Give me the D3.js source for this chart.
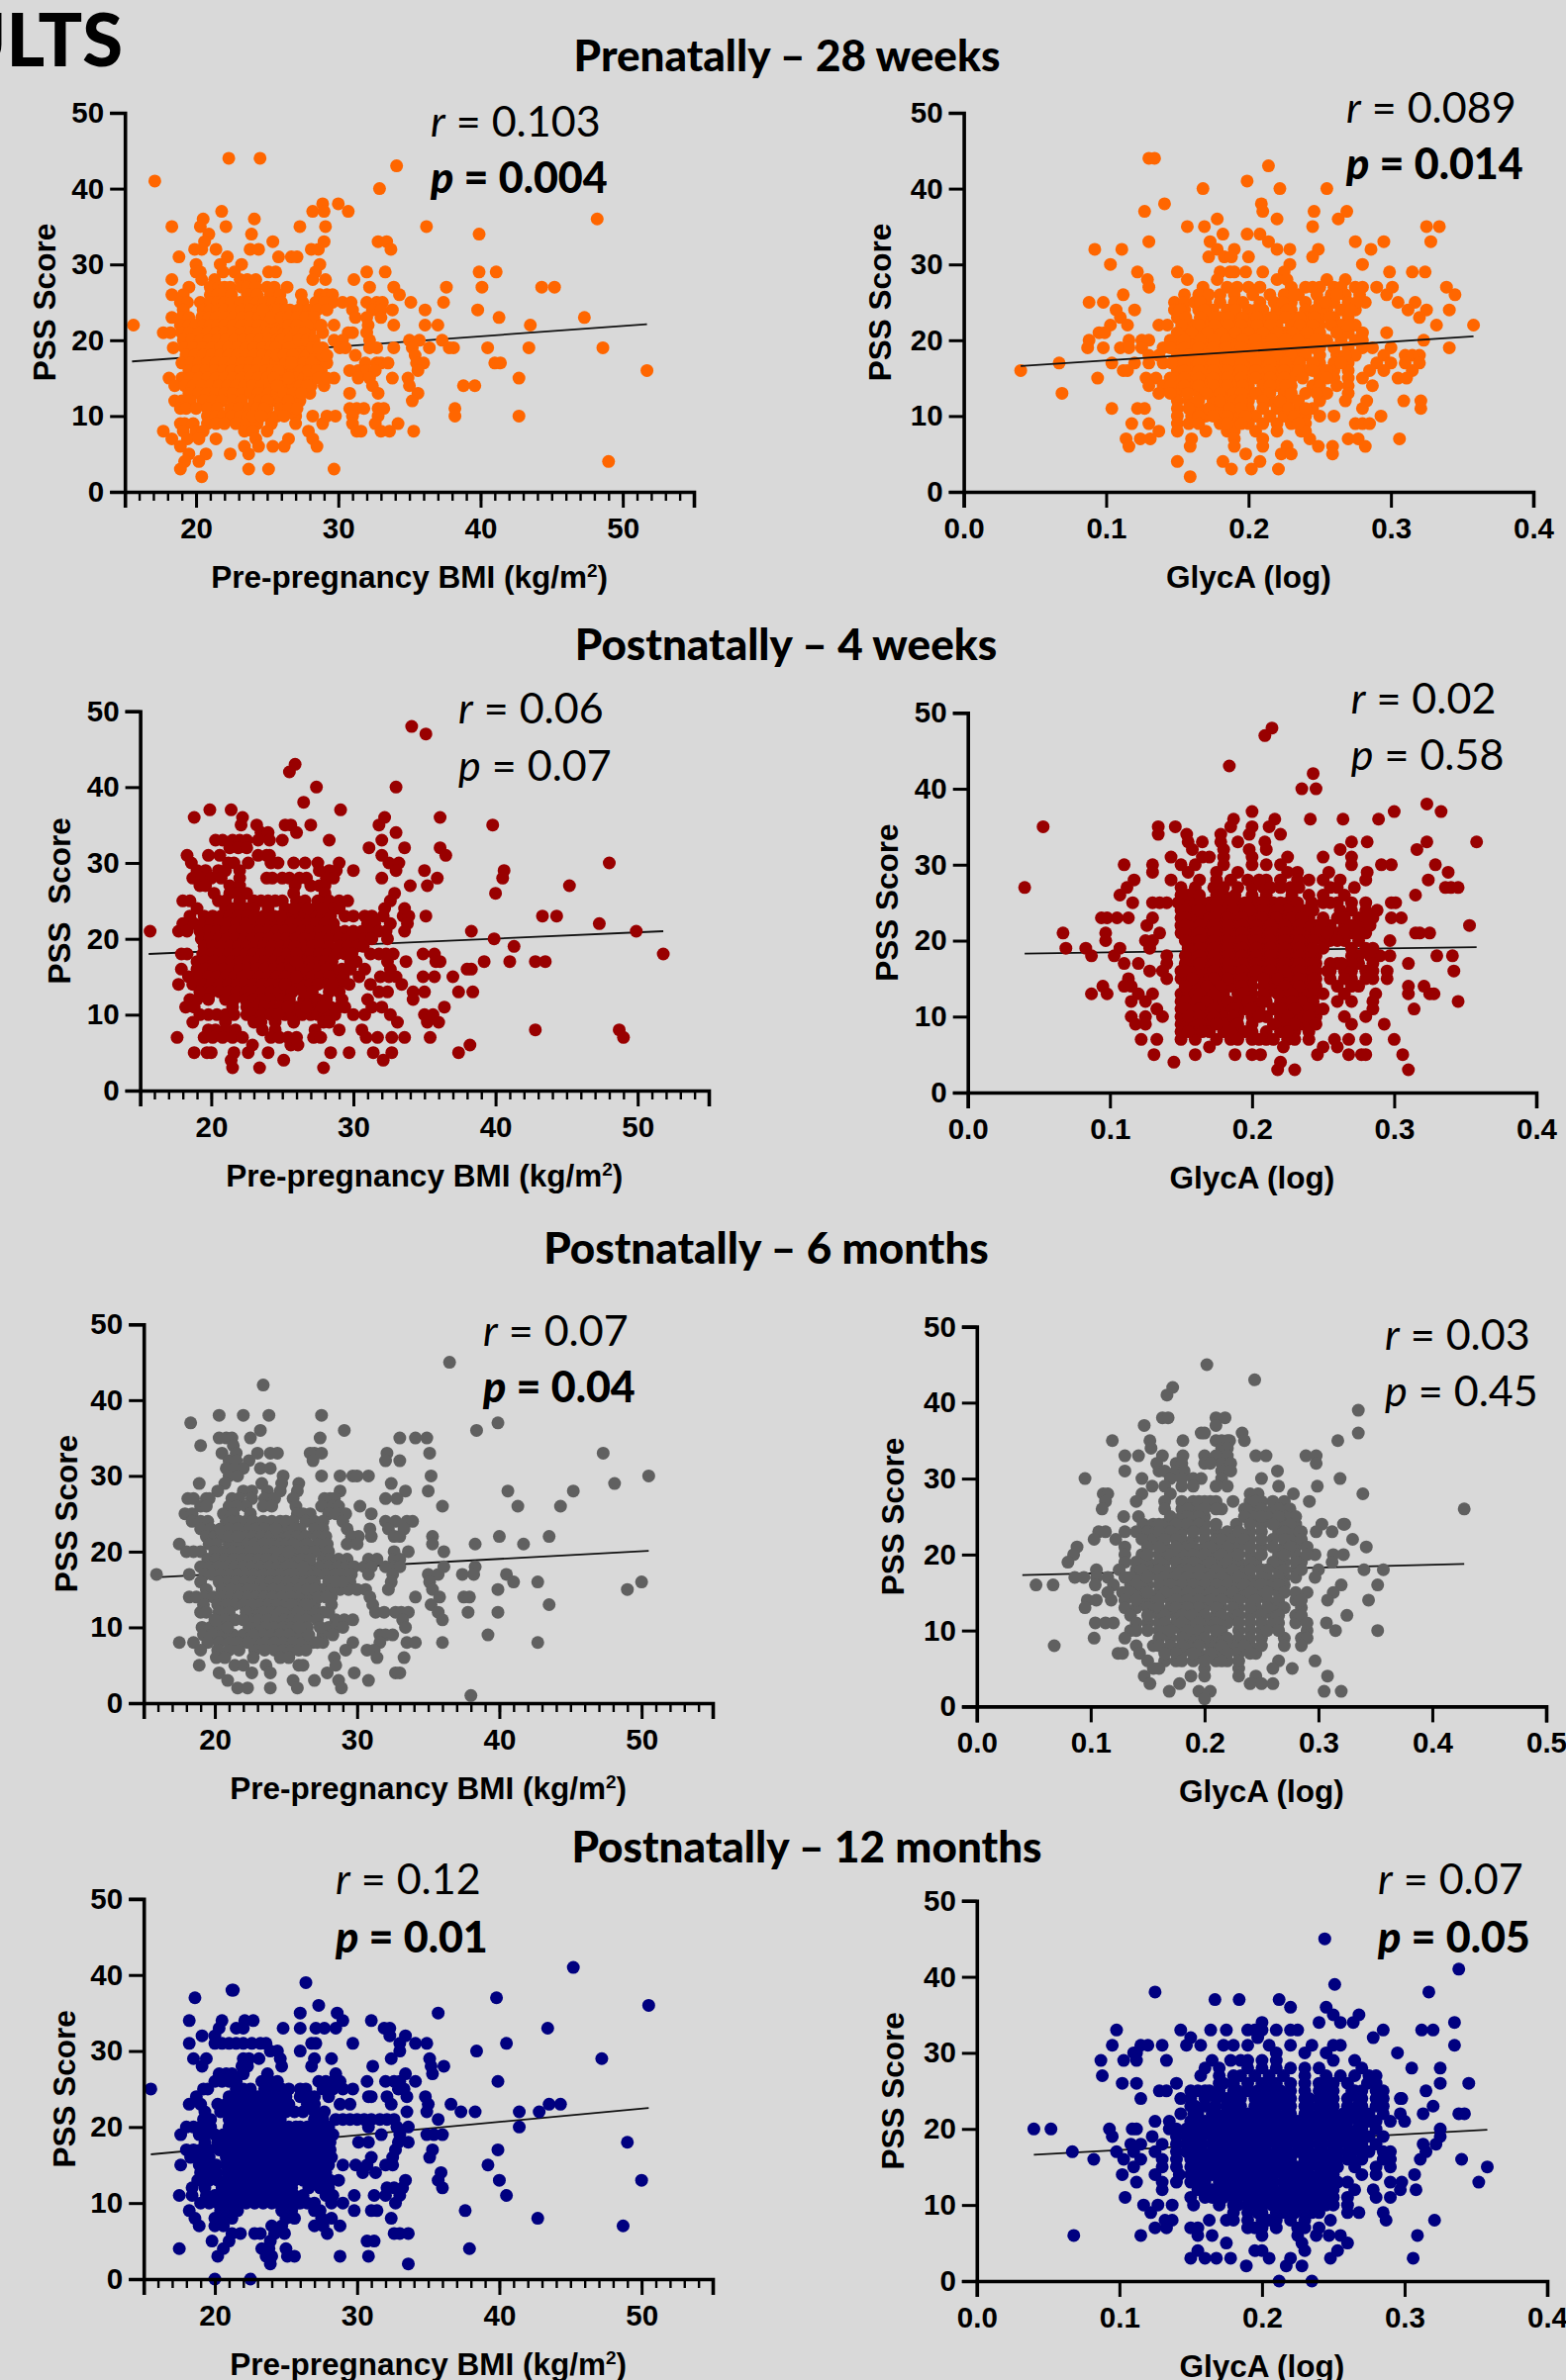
<!DOCTYPE html>
<html>
<head>
<meta charset="utf-8">
<script src="https://cdn.jsdelivr.net/npm/d3@7"></script>
<style>
  html, body { margin: 0; padding: 0; background: #d9d9d9; overflow: hidden; }
  text { fill: #000; }
  .tick-label { font-family: "Liberation Sans", Arial, sans-serif; font-weight: 700; font-size: 29.5px; }
  .axis-title { font-family: "Liberation Sans", Arial, sans-serif; font-weight: 700; font-size: 31.5px; white-space: pre; }
  .heading { font-family: Lato, sans-serif; font-weight: 900; font-size: 44px; }
  .stat { font-family: Lato, sans-serif; font-size: 43px; }
</style>
</head>
<body>
<div id="chart"></div>
<script>
// each row: PSS score first, then the x value of every dot read at that score
const bmi28w = [
  [44,22.3,24.5],[43,34.1],[41,17.1],[40,32.9],[38,28.9,30],[37,21.8,28.2,29,30.7],[36,20.5,24.1,48.2],
  [35,18.3,20.3,22.1,27.3,29.1,36.2],[34,20.9,23.9,39.9],[33,20.6,25.4,29,32.8,33.4],
  [32,19.9,20.4,21.4,23.8,24.4,28.1,28.6,33.7],[31,18.8,22.2,25.8,26.7,27.1],[30,20,21.7,23.2,28.7],
  [29,20,20.3,21.9,22.7,25.1,25.6,28.4,32,33.3,39.9,41.1],[28,18.3,20.4,21.3,23.1,23.6,24.2,28.2,29.1,31.1],
  [27,19.5,21,21.6,22,22.4,23.2,23.6,24.2,25,25.5,26.4,32.2,33.9,37.6,40.1,44.3,45.2],
  [26,18.3,19.1,21,21.5,22,22.5,23.6,24.3,25.2,25.9,27.4,28.7,29.2,29.6,34.3],
  [25,18.9,19.4,20.3,21,21.5,22,22.5,23.1,23.7,24.3,24.8,25.4,26,27.5,28.4,29,29.6,30.3,30.9,32,32.7,33.1,35.1,37.4],
  [24,19.1,20.5,21,21.5,22,22.6,23.2,23.8,24.4,25,25.5,26,26.6,27.2,27.9,28.5,29.2,31,32.4,33,33.8,36.1,39.8],
  [23,18.3,19,19.5,20.4,20.9,21.4,22,22.6,23.2,23.8,24.4,25,25.6,26.2,26.8,27.4,28,31.2,32,33,41.3,47.3],
  [22,15.6,18.9,19.5,20,20.5,21,21.5,22,22.6,23.2,23.8,24.4,25,25.6,26.2,26.8,27.4,28.3,29.7,32.1,33.9,36.1,37,43.5],
  [21,17.7,18.2,19,19.5,20.2,20.8,21.4,22,22.6,23.2,23.8,24.4,25,25.6,26.2,26.8,27.3,28,28.9,30.7,31,32],
  [20,19.1,19.7,20.3,20.9,21.5,22.1,22.7,23.3,23.9,24.5,25.1,25.7,26.3,26.9,27.5,29.7,30.3,32.2,35,35.7,37.3],
  [19,18.4,19.2,19.8,20.5,21.1,21.7,22.3,22.9,23.5,24.1,24.7,25.3,25.9,27.1,27.7,28.9,30.1,30.5,32.2,32.7,33.9,35.2,36.4,37.8,38.1,40.5,43.4,48.6],
  [18,19.3,19.9,20.5,21.1,21.7,22.3,22.9,23.5,24.1,24.7,25.3,27.2,27.8,28.4,31.2,35.4],
  [17,19,19.6,20.2,20.8,21.4,22,22.6,23.2,23.8,24.4,25,25.6,27,27.6,28.6,29.2,31.9,32.7,33,33.5,35.5,36,41,41.4],
  [16,19.5,20.1,20.7,21.3,21.9,22.5,23.1,23.7,24.3,24.9,26.2,26.8,27.4,28.2,28.8,30.8,31.4,32,32.6,35.6,51.7],
  [15,18.1,19,19.6,20.2,20.8,21.4,22,22.6,23.2,23.8,24.4,25,26,27,27.6,28,29.7,31.4,32.2,33.8,34.9,42.7],
  [14,18.5,19.2,19.8,20.4,21,21.6,22.2,22.8,23.4,24,24.6,25.2,26.3,26.8,28.1,29,32.4,35,38.8,39.6],
  [13,19.5,20.2,20.8,21.4,22,22.6,23.2,23.8,24.4,25.1,25.7,28,30.8,32.8,35.6],
  [12,18.5,19,19.6,20.5,21.2,21.8,22.6,23.2,24.1,25.5,26,26.9,27.3,35.2],
  [11,18.9,19.3,20,20.8,21.5,22.4,23,23.7,25,25.9,30.8,31.3,31.8,32.8,33.2,38.2],
  [10,20.8,21.4,21.9,22.5,23.1,23.6,25.1,27,28.2,29.2,29.8,31,32.8,38.2,42.7],
  [9,18.9,19.2,19.8,20.8,21.4,22,22.8,23.5,24.3,25.3,27,28.9,31,32.6,34.2],
  [8,17.7,19.1,20,20.5,23.4,24,25,27.9,31.3,31.6,33,33.6,35.3],[7,18.3,19.4,20.2,21.4,24.2,26.5,28.2],
  [6,18.9,23.4,24.4,25.4,26.2,28.5],[5,19.5,20.7,22.4,23.7],[4,19.2,20.2,49],[3,18.9,23.7,25.1,29.7],[2,20.4],
  // right flank of the dense block
  [24,24.7,25.8,26.3],[23,25.3,26,26.5,27.1,27.7,28.3],[22,26.5,27.1,27.8,28.8],[21,26.5,27,27.6],[20,26,26.6,27.2,27.8,28.3],
  [19,25.6,26.5,28.2,28.6],[18,25.7,26.2,26.8,28.9,29.2],[17,26.3,26.7,28.1],[16,25.4,25.8,27.9,28.5],[15,25.5,26.5,28.6,29.2],
  [14,25.7,27.3,27.8],[13,26.2,26.8,27.4],[12,24.5,25,26.5],[11,24.3,24.8,26.5,27.1],[10,24,24.6,25.7,26.2]
];
const glyca28w = [
  [44,.130,.134],[43,.214],[41,.199],[40,.168,.222,.255],[38,.141,.209],[37,.127,.21,.246,.269],[36,.178,.22,.263],
  [35,.157,.169,.245,.325,.334],[34,.182,.199,.208],[33,.13,.173,.214,.275,.295,.328],[32,.092,.111,.178,.19,.22,.229,.249,.286],
  [31,.172,.183,.188,.2,.245],[30,.103,.229,.28],[29,.122,.15,.18,.187,.19,.198,.21,.225,.299,.315,.324],
  [28,.129,.157,.178,.22,.227,.255,.268],[27,.13,.168,.185,.192,.2,.208,.23,.24,.245,.25,.26,.265,.275,.28,.29,.301,.339],
  [26,.112,.155,.165,.18,.19,.215,.225,.235,.248,.258,.268,.278,.297,.345],
  [25,.088,.098,.148,.155,.162,.17,.18,.19,.208,.218,.23,.24,.25,.26,.27,.282,.305,.317],
  [24,.107,.12,.148,.155,.165,.175,.185,.2,.21,.22,.23,.24,.255,.265,.275,.312,.325,.341],
  [23,.11,.15,.172,.18,.19,.2,.21,.22,.23,.24,.25,.26,.27,.32],
  [22,.103,.115,.137,.143,.16,.17,.18,.19,.2,.21,.22,.24,.25,.265,.275,.332,.358],
  [21,.095,.099,.155,.165,.175,.185,.195,.205,.215,.225,.235,.245,.27,.28,.297],
  [20,.088,.116,.125,.13,.15,.16,.17,.18,.19,.2,.21,.22,.23,.24,.255,.265,.275,.28,.323],
  [19,.087,.098,.11,.116,.125,.14,.15,.16,.17,.18,.19,.2,.21,.22,.23,.24,.25,.27,.28,.287,.3,.341],
  [18,.13,.137,.165,.175,.185,.195,.205,.215,.225,.235,.262,.275,.295,.31,.315,.32],
  [17,.067,.104,.12,.13,.14,.15,.16,.17,.18,.19,.2,.21,.22,.23,.25,.26,.27,.29,.3,.31,.32],
  [16,.04,.112,.115,.15,.16,.17,.18,.19,.2,.21,.22,.23,.24,.25,.26,.27,.285,.295,.315],
  [15,.094,.128,.135,.15,.16,.17,.18,.19,.2,.21,.22,.23,.25,.26,.27,.28,.305,.311],
  [14,.13,.14,.15,.16,.17,.18,.19,.2,.22,.23,.245,.27,.287],[13,.069,.137,.15,.165,.175,.185,.2,.21,.225,.24,.255,.27],
  [12,.15,.158,.175,.185,.2,.215,.228,.25,.268,.283,.309,.321],[11,.104,.122,.127,.15,.165,.18,.2,.22,.235,.245,.28,.321],
  [10,.15,.16,.17,.18,.19,.205,.225,.24,.25,.26,.293],[9,.118,.13,.15,.158,.18,.19,.2,.22,.23,.24,.275,.28,.285],
  [8,.137,.15,.17,.185,.19,.205,.22,.237,.24],[7,.114,.124,.131,.16,.19,.21,.243,.27,.277,.306],
  [6,.116,.159,.19,.21,.227,.249,.259,.282],[5,.198,.223,.23,.259],[4,.15,.182,.208],[3,.188,.202,.221],[2,.159],
  // the dense core
  [26,.172,.203,.232,.262],[25,.166,.196,.224,.254,.276],[24,.152,.169,.191,.205,.227,.247,.272],
  [23,.156,.166,.176,.186,.196,.206,.216,.226,.236,.246,.257],[22,.153,.165,.176,.186,.195,.206,.215,.23,.236,.245,.258,.27],
  [21,.15,.16,.171,.181,.191,.2,.21,.22,.231,.241,.25,.262],[20,.145,.155,.166,.176,.184,.196,.205,.216,.226,.235,.247],
  [19,.145,.155,.165,.175,.184,.195,.206,.214,.226,.236,.246,.26],[18,.15,.158,.17,.18,.19,.2,.21,.22,.23,.24,.25,.268],
  [17,.146,.155,.165,.175,.186,.195,.205,.215,.226,.236,.245,.265],[16,.155,.165,.175,.185,.195,.205,.215,.225,.235,.245,.255],
  [15,.145,.155,.165,.175,.185,.195,.205,.215,.225,.238,.255],[14,.145,.155,.165,.175,.185,.196,.21,.215,.226,.25,.262],
  [13,.145,.157,.17,.18,.19,.195,.205,.215,.23,.248],[12,.165,.18,.19,.195,.21,.222,.235],[11,.158,.172,.187,.195,.21,.228,.24],
  [10,.165,.175,.185,.198,.215,.232],[9,.165,.185,.195,.21,.235]
];
const bmi4w = [
  [48,34.1],[47,35.1],[43,25.9],[42,25.5],[40,27.4,33],[38,26.5],[37,19.9,21.4,29.1],[36,18.8,22.2,32.2,36.1],
  [35,22.1,23.2,25.2,25.6,27,31.8,39.8],[34,23.5,24,26,33],[33,20.3,20.8,21.5,22,22.5,23.3,24.1,25,28.3,32],
  [32,21.3,21.9,22.5,31.1,33.6,36.1],[31,18.3,19.8,20.6,23.3,23.9,24.1,32,36.5],
  [30,18.6,21.2,21.6,22.6,24.2,24.7,25.8,26.6,27.5,29,32.5,33.2,48],[29,19,19.6,20.5,21,22,27.6,28.3,28.8,30,33,35,40.6],
  [28,18.7,19.3,20,20.7,22,23.9,24.3,25,25.5,26.2,26.7,28.1,28.6,32,35.9,40.5],[27,19.2,19.6,21.3,22,25.9,27,27.6,28,34,35.2,45.2],
  [26,20.2,21.3,21.9,22.5,25.8,28,32.9,40],[25,18,18.5,20.5,21,22,23,23.5,24,24.5,25,26,26.6,27.5,28.3,29,29.6,32.6],
  [24,19,21,21.5,22,22.5,23,24,25.2,26.3,27.3,28.5,32.2,33.6],
  [23,18.5,19.5,20.1,20.7,21.3,21.9,22.5,23.1,23.7,25.3,26,26.6,27.2,27.8,28.4,29.4,30,30.8,31.3,32.1,33.5,33.9,35.1,43.3,44.3],
  [22,18,18.8,19.4,20,20.6,21.2,21.8,22.4,23,23.6,24.2,25,25.6,26.2,26.8,27.4,28,28.6,31,31.5,32.6,33.8,47.3],
  [21,15.7,17.7,18.3,19.2,19.8,20.4,21,21.6,22.2,22.8,23.4,24,24.6,25.2,25.8,26.4,27,27.6,28.2,28.8,29.4,30,30.6,31.2,31.8,32.3,33.6,38.3,49.9],
  [20,19.3,19.9,20.5,21.1,21.7,22.3,22.9,23.5,24.1,24.7,25.3,25.9,26.5,27.1,27.7,28.3,29,29.6,30.2,32.4,39.9],
  [19,19.5,20.1,20.7,21.3,21.9,22.5,23.1,23.7,24.3,24.9,25.5,26.5,27.1,27.7,28.3,29,29.6,30.2,41.3],
  [18,17.9,18.3,19.4,20,20.6,21.2,21.8,22.4,23,23.6,24.2,24.8,25.4,26.3,27,27.6,28.2,28.8,31.2,31.8,32.3,32.8,34.9,35.7,51.8],
  [17,19,19.6,20.2,20.8,21.4,22,22.6,23.2,23.8,24.4,25,25.6,26.5,27,27.6,29.8,30.2,32.4,33.7,35.8,36.1,39.2,41,42.8,43.5],
  [16,17.9,19,19.6,20.2,20.8,21.4,22,22.6,23.2,23.8,24.4,25,25.6,26.4,27,27.6,28.6,29.2,30.8,32.6,38,38.3],
  [15,18.4,19.2,19.8,20.4,21,21.6,22.2,22.8,23.4,24,24.6,25.2,26.5,27.1,27.7,28.8,29.3,30.4,31.9,32.5,33,34.9,35.7,37],
  [14,17.7,18.7,19.4,20,20.6,21.2,21.8,22.4,23,23.6,24.2,24.8,25.6,26.3,27,27.5,29,29.7,31.2,33.4],
  [13,19.2,20,20.6,21.2,21.8,22.4,23,23.6,24.2,24.8,25.4,28.3,29,31.8,32.4,34.2,35,37.4,38.4],
  [12,18.5,19,19.8,21,21.6,22.4,23,23.6,24.2,25,26.5,27,29.2,31,34.2],
  [11,18.2,18.8,21.5,22.5,23.2,23.8,24.4,26,27.3,28.4,29,29.4,31.3,32,36.4],
  [10,19.2,19.8,20.4,21,21.6,22.5,23,23.6,24.2,25.2,25.7,26.4,27,27.5,28,28.7,30,30.8,32.6,35,35.6],
  [9,18.7,21,23,23.5,24.5,25.8,27.9,28.3,33.1,35.2,36],[8,19.8,20.3,21,21.7,23.6,24.5,27.3,29,30.6,42.8,48.7],
  [7,17.6,19.5,20.1,20.8,21.5,22.2,24.2,24.8,25.4,26,27.2,27.7,30.9,31.7,32.7,33.6,35.4,49],[6,25.6,26.1,22.9,38.2],
  [5,18.8,19.7,20,21.6,22.6,24,28.4,29.7,31.4,32.7,37.4],[4,21.4,25.1,32.1],[3,21.5,23.4,27.9],
  // right flank of the dense block
  [24,25.8,26.8,27.8,29],[23,24.4,24.9],[20,30.8,31.3],[19,25.9,30.7],[18,26,29.4,29.9],[17,26,28,28.5],[16,28.1,29.8],[15,26,28.3],
  [14,25.2,28.2,28.5],[13,25.7,26.5,27.1],[12,25.5,27.5,28.1],[11,24.9,25.4,26.7,27.8],[10,24.7]
];
const glyca4w = [
  [48,.214],[47,.209],[43,.184],[42,.243],[40,.235,.245],[38,.323],[37,.2,.3,.333],[36,.187,.216,.241,.264,.289],
  [35,.053,.134,.146,.2,.212,.185],[34,.134,.154,.178,.198,.22],[33,.155,.165,.178,.19,.209,.27,.281,.323,.358],
  [32,.158,.18,.198,.21,.262,.316],[31,.143,.165,.17,.18,.2,.225,.27,.25],[30,.11,.13,.15,.16,.18,.2,.21,.22,.27,.291,.298,.329],
  [29,.13,.155,.175,.19,.225,.232,.254,.281,.338],[28,.117,.143,.163,.185,.197,.21,.22,.24,.25,.28,.324],
  [27,.04,.112,.15,.173,.19,.2,.208,.22,.227,.255,.272,.336,.34,.345],[26,.107,.155,.175,.18,.24,.315],
  [25,.116,.13,.135,.14,.15,.155,.16,.17,.18,.19,.2,.215,.225,.25,.26,.27,.28,.298,.301],[24,.155,.165,.19,.2,.21,.22,.23,.27,.288],
  [23,.094,.098,.105,.113,.13,.155,.16,.175,.185,.195,.205,.215,.225,.24,.26,.275,.285,.298,.305],
  [22,.126,.15,.16,.17,.18,.19,.2,.21,.22,.23,.245,.255,.265,.275,.353],
  [21,.067,.097,.135,.15,.16,.17,.18,.19,.2,.21,.22,.23,.24,.26,.27,.28,.315,.318,.325],
  [20,.097,.125,.13,.16,.17,.18,.19,.2,.21,.22,.23,.24,.255,.265,.297],
  [19,.069,.083,.107,.128,.16,.17,.18,.19,.2,.21,.22,.23,.27,.28],
  [18,.087,.103,.14,.16,.17,.18,.19,.2,.21,.23,.245,.275,.29,.297,.33,.341],
  [17,.11,.12,.14,.16,.17,.185,.195,.215,.225,.235,.245,.26,.275,.31],
  [16,.128,.137,.16,.17,.18,.19,.205,.22,.23,.24,.255,.27,.28,.295,.342],
  [15,.113,.14,.15,.165,.18,.2,.22,.23,.24,.255,.27,.285,.295],[14,.095,.11,.115,.17,.185,.2,.225,.235,.245,.26,.275,.31,.321],
  [13,.087,.098,.12,.13,.15,.17,.18,.2,.22,.235,.25,.287,.31,.325,.328],[12,.115,.125,.155,.175,.2,.22,.24,.26,.27,.285,.345],
  [11,.133,.16,.18,.195,.215,.235,.25,.285,.314],[10,.115,.125,.137,.165,.18,.2,.21,.23,.245,.28,.265],
  [9,.118,.125,.15,.17,.185,.22,.235,.27,.293],[8,.16,.18,.2,.21,.22,.24],[7,.122,.133,.15,.16,.175,.2,.21,.225,.24,.258,.268,.28,.3],
  [6,.17,.222,.25,.26],[5,.131,.16,.188,.2,.206,.246,.268,.277,.28,.306],[4,.145,.22],[3,.218,.23,.31],
  // the dense core
  [28,.175,.205,.232,.262],[27,.16,.18,.213,.233,.26],[26,.15,.163,.188,.2,.21,.228,.25,.265],[25,.165,.185,.195,.205,.22,.232,.242,.255],
  [24,.15,.16,.17,.18,.195,.205,.215,.225,.238,.262,.28],[23,.15,.165,.17,.18,.19,.2,.21,.22,.23,.25,.265,.28],
  [22,.155,.165,.175,.185,.195,.205,.215,.225,.24,.27,.283],[21,.155,.165,.175,.185,.195,.205,.215,.225,.245,.265,.275],
  [20,.165,.175,.185,.195,.205,.215,.225,.235,.25,.26,.275],[19,.155,.165,.175,.185,.195,.205,.215,.225,.24,.25,.285],
  [18,.155,.165,.175,.185,.195,.205,.215,.225,.24,.27,.283],[17,.155,.165,.18,.19,.205,.22,.23,.24,.255,.27,.285],
  [16,.15,.165,.175,.185,.197,.21,.225,.235,.245,.265,.285],[15,.155,.17,.19,.21,.225,.235,.245,.265,.28],[14,.16,.175,.195,.215,.23,.24,.27],
  [13,.155,.16,.19,.21,.225,.23,.245,.265],[12,.15,.16,.18,.19,.21,.225,.235],[11,.15,.17,.19,.205,.225,.245],[10,.15,.16,.19,.21,.22,.235],
  [9,.155,.16,.18,.2,.225,.24],[8,.15,.17,.19,.23],[7,.185,.215,.23],
  // dots between the columns
  [25,.148,.163,.175,.208],[24,.153,.163,.175,.187,.198,.208,.218,.233,.243],[23,.153,.173,.183,.193,.207,.217,.228,.235],
  [22,.153,.163,.173,.183,.193,.203,.213,.223,.233,.25],[21,.153,.163,.173,.183,.193,.203,.213,.223,.233,.253],
  [20,.153,.163,.173,.183,.193,.203,.213,.223,.233,.243],[19,.163,.173,.183,.193,.203,.213,.223,.233,.243],
  [18,.153,.163,.173,.183,.193,.203,.213,.223,.233],[17,.153,.163,.173,.183,.193,.203,.213,.223,.233,.243,.263],
  [16,.153,.173,.183,.193,.203,.213,.223,.233,.243,.253],[15,.158,.173,.183,.193,.208,.218,.233,.243],[14,.153,.168,.178,.193,.208,.223,.233,.243],
  [13,.163,.173,.193,.208,.218,.228,.243],[12,.153,.168,.183,.197,.207,.228,.243],[11,.153,.163,.173,.187,.2,.22,.23,.24],
  [10,.155,.163,.173,.187,.205,.225,.24],[9,.163,.175,.19,.215,.23,.245],[8,.155,.165,.185,.195,.225],[7,.19,.205]
];
const bmi6m = [
  [45,36.5],[42,23.4],[38,20.3,22,23.8,27.5],[37,18.3,39.9],[36,23.2,29.1,38.4],[35,20.3,20.8,21.2,22.5,27.4,33,34.1,34.9],[34,19,21.3],
  [33,20.5,21.5,23,23.9,24.4,26.7,27,27.5,32.1,35.1,47.3],[32,21,21.5,22.4,26.9,32,33],[31,20.8,21.4,22,23.2,23.9],
  [30,21,21.6,24.8,27.5,28.8,29.7,30,30.8,35.2,50.5],[29,18.9,20.7,23.3,24.7,25.9,32.4,48.1],
  [28,20.2,22,22.6,23.7,24.6,25.8,28.8,33.4,35,40.6,45.2],[27,18.1,18.5,19.4,19.6,21.2,21.7,22.6,23.5,24.2,25.5,27.7,28.1,28.4,32,32.8],
  [26,19,19.4,21,21.5,22.2,23.4,24,25.7,27.5,28.3,28.7,30.2,36,41.3,44.3],[25,17.9,18.4,20.6,21.3,22.5,25.8,26.2,26.7,28,28.5,29.2,31],
  [24,18.4,19,19.5,20.8,22.2,22.7,23.4,24,26.4,27,27.6,29,32,32.7,33.5,33.9],[23,19,19.7,22.3,22.9,23.5,24.9,25,26,27,27.6,29.3,30.9,32.2,33.3],
  [22,19.4,20,20.5,22.2,22.7,23.3,23.9,24.6,25.2,27.2,27.8,29.6,30.1,31,32.6,33,35.3,40,43.5],
  [21,17.5,19.6,20.1,21,21.6,22.2,22.8,23.4,24,24.6,25,26,27.2,27.9,29.3,30,35.3,38.3,41.7],
  [20,18,18.5,19,20,20.6,21.2,21.8,22.4,23,23.6,24.2,24.8,25.8,27.5,28,32.6,33.6,36.1],
  [19,19.5,20.1,20.7,21.3,21.9,22.5,23.1,23.7,24.3,24.9,25.5,27.6,28.1,28.7,29.3,30.8,31.4,32.6,33],
  [18,19,19.6,20.2,20.8,21.4,22,22.6,23.2,23.8,24.4,25,25.6,26.8,27.4,28,28.6,29.2,29.8,30.5,31,32,32.6,33,36.1,38.3],
  [17,15.9,18.2,19.3,19.8,20.4,21,21.6,22.2,22.8,23.4,24,24.6,25.2,25.8,26.6,27.2,27.8,28.4,29,29.6,30.8,32.5,35,35.7,37.4,38.2,40.5],
  [16,19,20.3,20.9,21.5,22.1,22.7,23.3,23.9,24.5,25.1,25.7,27,28,29.5,32.4,35.1,41,42.7,50],
  [15,19.4,20.5,21.1,21.7,22.3,22.9,23.5,24.1,24.7,25.3,25.9,27.5,28.2,28.8,29.4,30,30.6,32.2,35.3,39.9,49],
  [14,18.2,18.7,19.3,19.9,20.5,21.1,21.7,22.3,22.9,23.5,24.1,24.7,25.9,26.5,28.2,30.9,34.1,35.8,37.5,37.9],
  [13,19.2,20.2,20.8,21.4,22,23.2,23.8,24.4,25,25.8,27,28.2,31.1,35.2,43.5],
  [12,19,19.4,20.3,21,22.8,23.4,24,24.6,25.2,26.5,27,28,31.3,31.9,32.7,33.1,33.6,35.7,37.8,39.9],
  [11,20.7,21.4,22.5,23.1,23.7,24.3,24.9,25.5,28.5,29.1,29.7,33.2,36],[10,19.1,19.7,20.3,23,23.6,24.2,24.8,25.4,28,28.5,29,33.4],
  [9,19.2,19.8,20.6,21.3,22,23.4,24,24.6,25.2,26,27.6,28.3,31.6,32,32.5,39.2],
  [8,17.5,18.5,19.5,20.3,21,21.6,23,23.6,24.2,24.8,25.5,26.2,26.9,27.6,29.7,31.6,33.5,34.1,36,42.7],
  [7,19,20.2,21,21.7,22.8,23.5,24.2,24.8,25.4,29.2,30.7,31.2],[6,20.1,20.7,22.7,24.6,25.2,28.4,31.4,33.3],
  [5,18.9,21.4,22,23.6,25.9,26.2,28.5],[4,20.3,22.6,23.9,27.9,29.8,32.7,33],[3,20.9,25.5,27,28.7,30.8],[2,21.6,22.3,23.9,25.8,28.9],[1,38],
  // filling in the block
  [24,21.2,21.7,24.6,25,25.5],[23,20.4,21,21.6,24.3,25.6],[22,21,21.6,25.8,26.4],[21,25.5,26.5],[20,25.2,26.4,27],[19,26.1,26.7],[18,26.2],
  [16,26.3,26.8,28.5,29],[15,26.5,27],[14,25.3,27.3,27.8],[13,22.6,25.4,26.4],[12,22.2,25.8,27.6],[11,20,22,25.9,26.4,27.2],
  [10,20.9,22.4,25.9,26.5,27.4],[9,22.7,26.6],[8,22.3,27.2],[7,25.9,26.4]
];
const glyca6m = [
  [45,.202],[43,.244],[42,.172],[41,.167],[39,.335],[38,.163,.168,.21,.218],[37,.147,.21],[36,.197,.2,.233,.335],
  [35,.119,.152,.181,.21,.215,.22,.222,.235,.317],[34,.153,.215,.22],[33,.13,.142,.163,.181,.2,.21,.22,.245,.254,.289,.298],
  [32,.158,.175,.18,.2,.205,.215,.223,.298],[31,.13,.16,.165,.175,.182,.215,.223,.264],[30,.095,.145,.17,.18,.19,.197,.215,.25,.319],
  [29,.154,.165,.18,.19,.21,.22,.265,.299],[28,.111,.115,.145,.17,.24,.247,.278,.339],[27,.113,.14,.165,.19,.2,.205,.225,.24,.25,.27,.292],
  [26,.11,.165,.18,.19,.197,.215,.24,.26,.275,.428],[25,.129,.142,.18,.19,.2,.245,.255,.27],
  [24,.146,.155,.165,.19,.2,.228,.25,.27,.28,.303,.322,.323],[23,.107,.113,.13,.14,.15,.157,.18,.21,.22,.24,.265,.28,.298,.312],
  [22,.103,.122,.145,.155,.18,.19,.21,.225,.24,.26,.275,.33],[21,.088,.13,.15,.165,.185,.2,.215,.23,.25,.27,.28,.342],
  [20,.085,.13,.145,.16,.18,.195,.21,.225,.24,.265,.28,.297,.313,.322],[19,.08,.13,.15,.165,.185,.2,.215,.23,.245,.27,.285,.312],
  [18,.105,.125,.14,.155,.165,.175,.19,.205,.22,.235,.25,.265,.28,.3,.34,.357],
  [17,.086,.094,.105,.115,.13,.145,.16,.17,.18,.19,.2,.21,.225,.24,.255,.27,.28,.297],
  [16,.052,.067,.104,.12,.135,.15,.165,.175,.185,.195,.205,.215,.23,.245,.26,.27,.32,.352],
  [15,.115,.128,.145,.16,.17,.18,.19,.2,.21,.22,.235,.25,.265,.29,.313],
  [14,.097,.105,.118,.13,.145,.155,.17,.18,.19,.2,.21,.225,.24,.255,.28,.308,.344],
  [13,.095,.13,.14,.155,.17,.18,.19,.2,.215,.23,.245,.26,.285],[12,.135,.16,.175,.185,.195,.21,.225,.24,.26,.28,.325],
  [11,.104,.113,.12,.14,.15,.16,.175,.19,.205,.22,.24,.26,.28,.307],[10,.135,.15,.165,.18,.2,.215,.23,.25,.29,.315,.352],
  [9,.103,.13,.17,.19,.21,.23,.25,.27,.285,.29],[8,.068,.14,.155,.17,.185,.205,.225,.24,.27,.285],[7,.124,.128,.143,.18,.195,.21,.23,.245],
  [6,.15,.165,.175,.19,.21,.22,.265,.297],[5,.155,.16,.2,.23,.26,.277],[4,.147,.188,.2,.23,.245,.308],[3,.152,.178,.24,.25,.26],
  [2,.169,.195,.205,.305,.32],[1,.2],
  // the dense core
  [27,.18,.195,.21,.245,.26],[26,.185,.2,.21,.235,.25,.265],[25,.17,.185,.195,.235,.25,.265,.28],[24,.16,.175,.185,.195,.21,.24,.26,.275],
  [23,.16,.17,.19,.2,.23,.25,.27,.285],[22,.165,.175,.2,.215,.235,.25,.27,.285],[21,.16,.175,.19,.205,.22,.24,.26,.275,.29],
  [20,.15,.17,.19,.2,.215,.23,.25,.27,.29],[19,.14,.16,.175,.19,.205,.22,.24,.26,.28],[18,.145,.16,.18,.185,.195,.21,.225,.24,.255,.27,.285],
  [17,.135,.15,.165,.175,.185,.195,.205,.215,.23,.25,.265],[16,.14,.16,.17,.18,.19,.2,.21,.22,.235,.25,.265],
  [15,.135,.15,.165,.175,.185,.195,.205,.215,.225,.24,.255,.27,.28],[14,.14,.16,.175,.185,.195,.205,.215,.23,.245,.265,.285],
  [13,.15,.16,.175,.185,.195,.21,.225,.24,.255,.27],[12,.15,.165,.18,.19,.2,.215,.23,.25,.265,.285],[11,.165,.18,.195,.21,.23,.25,.265,.29],
  [10,.14,.16,.17,.185,.195,.21,.24,.255,.265],[9,.16,.18,.2,.22,.24],[8,.16,.18,.195,.215,.235,.25],[7,.165,.175,.19,.205,.22,.24],[6,.18,.2,.215,.23]
];
const bmi12m = [
  [41,45.2],[39,26.4],[38,21.2,21.3],[37,18.6,39.8],[36,27.3,50.5],[35,26,28.6,35.7],[34,18.2,20.5,22.1,22.7,29,31],
  [33,20.3,21.5,22,24.8,26,27.1,27.7,28.5,31.9,32.3,43.4],[32,19.1,20,32.3,33.4],
  [31,18.2,20,20.5,21,21.5,22,22.6,23.2,23.6,26.8,27.1,29.7,33,34.1,34.9,40.5],[30,23.9,24.4,26,33,38.4],
  [29,18.5,19.4,22,22.4,23.1,24.6,27,28.2,32.4,35.1,47.2],[28,19.1,21.9,22.3,24.7,26.8,31.1,35.2,36.1],[27,20.3,20.8,21.2,22,23.7,28.5,33.4,35.3],
  [26,20,20.5,21,21.5,23.3,23.9,24.4,27.3,27.8,28.3,28.8,30.7,32,32.6,33,34.1,39.9],
  [25,15.5,19.2,19.5,21.5,22,22.5,23.5,24,24.7,25.2,26,26.4,27.6,28.3,29,29.7,32.9,33.3],
  [24,18.7,21,21.7,22.4,23,24,24.5,25,26,26.7,27,28,30.8,31,32.1,33.5,34.8],
  [23,18.2,19,20.8,21.4,22,23.5,24.5,25.2,26.5,27,28.8,29.5,32.4,35,36.6,43.5,44.3],
  [22,19.3,21,21.7,22.4,23,23.8,24.5,25,25.6,26.2,27,27.7,33.5,34.9,37.3,38.3,41.4,42.8],
  [21,19.2,19.7,21,21.6,22.2,22.8,23.4,24,24.6,27,27.6,28.5,29,29.5,30,30.5,31,31.6,32.1,32.6,35.7],
  [20,18,18.5,19,19.7,21,21.6,22.2,22.8,23.4,24,24.6,25.2,26,27,27.5,28,30.8,32.8,33.6,41.4],
  [19,17.6,18.9,19.3,20,20.6,21.2,21.8,22.4,23,23.6,24.2,24.8,25.4,26,27,27.6,28.3,31.7,33,34.9,35.4,36],
  [18,19.3,20.9,21.5,22.1,22.7,23.3,23.9,24.5,25.1,25.7,26.3,26.9,27.5,28.1,30.1,30.8,32.9,33.6,49],
  [17,18,18.5,19,19.6,20.3,20.9,21.5,22.1,22.7,23.3,23.9,24.5,25.1,25.7,26.3,26.9,27.5,28.1,32.7,35.3,39.9],
  [16,18.3,19,19.6,20.8,21.4,22,22.6,23.2,23.8,24.4,25,25.6,26.2,26.8,27.5,28.2,31,32.5,35.1],
  [15,17.6,18.9,19.4,20.8,21.4,22,22.6,23.2,23.8,24.4,25,25.6,26.2,26.8,27.4,28,29,29.9,30.7,32,32.5,39.2],
  [14,19.5,20.1,20.9,21.5,22.1,22.7,23.3,23.9,24.5,25.5,26.6,27.2,27.8,30.4,31.3,35.9],
  [13,18.8,19.6,20.8,21.5,22.1,22.7,23.3,24,24.6,25,26.8,27.5,28.1,28.7,33.4,35.7,40,50],
  [12,18.4,19.3,21,21.6,22.2,22.8,23.4,24,25.4,26.6,27.4,28,32.1,32.6,33.2,36],
  [11,17.5,18.4,19.4,20,20.6,21.2,21.8,22.4,23,23.6,24.8,25.6,26.2,27.8,28.3,29.8,31.2,32,33,40.5],
  [10,19,19.6,20.2,20.9,21.5,22.2,22.8,23.4,24,24.5,25.2,25.8,26.5,28.2,29,32.7],
  [9,18.2,20.4,21,21.6,24.7,25.4,27,27.4,29.8,31,31.4,37.6],[8,18.6,20,20.6,21.2,25,25.6,27.5,28.2,32.4,42.7],
  [7,18.9,20,20.6,24,24.7,27,27.6,28.8,48.7],[6,21.2,21.8,22.8,23.2,24.2,24.9,27.9,32.6,33,33.6],[5,19.8,21,23.9,30.7,31.2],
  [4,17.5,20.6,23.3,23.8,25,37.9],[3,20.2,23.6,24,25.1,25.6,28.8,30.8],[2,23.9,33.6],[0,20,22.5],
  // filling in the block
  [24,21.3,22,22.6,23.3],[23,20.2,21.7,22.4,23,24,24.9],[22,20.4,22.1,22.8],[20,25.7,26.5],[19,26.5],[18,20.2,26.1],[15,20.1],
  [14,19,25,26],[13,20.2,25.6,26.2],[12,20.5,24.6,25],[11,24.2,25.2],[10,25.2,26,27]
];
const glyca12m = [
  [45,.244],[41,.338],[39,.251],[38,.125,.317],[37,.167,.184,.212],[36,.22,.245],[35,.25,.268],[34,.24,.255,.264,.2,.335],
  [33,.098,.143,.164,.175,.19,.195,.2,.21,.22,.225,.285,.312,.32],[32,.15,.197,.278],
  [31,.095,.115,.12,.13,.147,.157,.173,.18,.19,.205,.22,.235,.25,.255,.335],[30,.112,.11,.21,.23,.245,.295],
  [29,.087,.103,.112,.133,.165,.178,.19,.21,.25,.265],[28,.16,.19,.22,.23,.24,.27,.305,.325],[27,.088,.157,.18,.195,.205,.255,.265,.28],
  [26,.102,.112,.14,.17,.2,.22,.23,.26,.274,.325,.345],[25,.128,.133,.15,.155,.16,.18,.197,.21,.24,.265,.28,.315],
  [24,.115,.143,.16,.175,.2,.215,.23,.25,.27,.28,.297,.298],[23,.15,.185,.2,.22,.24,.27,.285,.32],
  [22,.143,.155,.18,.195,.21,.23,.25,.265,.285,.297,.313,.338,.342],[21,.125,.135,.16,.17,.185,.2,.215,.23,.245,.26,.275,.29,.3],
  [20,.04,.052,.093,.109,.112,.135,.15,.165,.18,.195,.21,.225,.24,.25,.27,.325],[19,.095,.123,.14,.155,.17,.18,.195,.21,.225,.24,.265,.285,.325],
  [18,.108,.115,.14,.15,.165,.175,.19,.2,.215,.23,.25,.27,.313,.322],[17,.067,.098,.11,.125,.14,.155,.17,.18,.195,.21,.225,.24,.26,.275,.29,.315],
  [16,.082,.103,.115,.13,.16,.17,.185,.2,.215,.23,.245,.26,.29,.311,.34],[15,.11,.13,.15,.165,.18,.195,.21,.225,.24,.265,.28,.29,.358],
  [14,.102,.125,.142,.155,.17,.185,.2,.215,.23,.245,.27,.28,.307],[13,.112,.13,.14,.16,.175,.19,.205,.22,.235,.26,.29,.298,.352],
  [12,.13,.155,.17,.185,.2,.215,.23,.25,.265,.278,.297,.308],[11,.104,.15,.165,.18,.195,.21,.225,.24,.26,.28,.29],
  [10,.117,.127,.137,.152,.17,.19,.21,.22,.235,.25,.26],[9,.122,.19,.2,.215,.24,.26,.268,.285],
  [8,.132,.137,.163,.175,.18,.205,.21,.22,.248,.287,.321],[7,.125,.133,.15,.155,.19,.195,.225,.23],
  [6,.068,.115,.155,.165,.2,.225,.238,.247,.255,.309],[5,.175,.228,.26],[4,.155,.195,.2,.23,.253],[3,.15,.16,.168,.178,.205,.22,.248,.306],
  [2,.189,.217,.228],[0,.212,.235],
  // the dense core
  [29,.185,.2],[28,.17,.2,.21],[27,.17,.185,.215,.23,.245,.275],[26,.18,.19,.21,.24,.25,.28],[25,.17,.19,.205,.22,.23,.25,.27,.285],
  [24,.15,.185,.195,.21,.22,.24,.26,.285],[23,.16,.175,.195,.21,.23,.25,.26,.28],[22,.165,.175,.19,.2,.22,.24,.26,.275],
  [21,.15,.175,.195,.21,.225,.24,.25,.28],[20,.14,.16,.175,.19,.205,.22,.235,.26,.28],[19,.15,.165,.175,.19,.2,.215,.23,.25,.275],
  [18,.13,.155,.17,.18,.195,.21,.225,.24,.26,.28],[17,.15,.165,.175,.19,.2,.215,.23,.25,.27,.285],[16,.14,.15,.165,.18,.19,.205,.22,.24,.25,.27,.285],
  [15,.14,.16,.175,.19,.2,.215,.23,.25],[14,.15,.165,.18,.19,.205,.22,.24,.25],[13,.15,.17,.185,.2,.215,.225,.245],[12,.16,.18,.19,.205,.22,.24],
  [11,.16,.17,.19,.2,.215,.23,.25],[10,.18,.2,.215,.23,.24],[9,.18,.21,.23],[8,.19,.2,.23],[7,.2,.21,.24],
  // dots between the columns
  [26,.173,.207,.243],[25,.163,.183,.213,.243,.263],[24,.168,.178,.203,.233,.247,.268],[23,.153,.167,.183,.207,.217,.233,.243,.267],
  [22,.152,.168,.183,.207,.217,.233,.247,.257,.268],[21,.153,.167,.178,.193,.207,.218,.233,.238,.257,.268],
  [20,.147,.157,.168,.183,.187,.198,.213,.218,.228,.243,.253,.267],[19,.147,.158,.168,.183,.193,.207,.218,.233,.243,.257,.268],
  [18,.147,.158,.168,.183,.187,.203,.218,.233,.243,.253,.267],[17,.147,.158,.168,.183,.187,.203,.218,.233,.243,.253,.263],
  [16,.153,.158,.173,.178,.193,.208,.218,.233,.238,.253,.263],[15,.153,.168,.183,.187,.205,.22,.233,.243,.253],
  [14,.158,.173,.178,.197,.208,.225,.233,.243],[13,.155,.178,.193,.208,.22,.232,.24,.253],[12,.165,.175,.195,.208,.225,.235,.245],
  [11,.173,.183,.203,.22,.235,.245],[10,.183,.197,.207,.225,.245],[9,.197,.223,.235]
];

// fit lines, [x1, y1, x2, y2] in data units
const fitBmi28w = [15.5, 17.2, 51.7, 22.1];
const fitGlyca28w = [.04, 16.6, .358, 20.5];
const fitBmi4w = [15.6, 18, 51.8, 21];
const fitGlyca4w = [.04, 18.3, .358, 19.15];
const fitBmi6m = [15.9, 16.6, 50.5, 20.1];
const fitGlyca6m = [.04, 17.3, .428, 18.75];
const fitBmi12m = [15.5, 16.4, 50.5, 22.5];
const fitGlyca12m = [.04, 16.6, .358, 19.9];

const scoreTicks = [0, 10, 20, 30, 40, 50];
const bmiTicks = [20, 30, 40, 50];
const bmiMinor = d3.range(16, 56);
const glycaTicks = [0, .1, .2, .3, .4];
const glycaTicksWide = [0, .1, .2, .3, .4, .5];

const titles = [
  ["Prenatally – 28 weeks", 795, 72],
  ["Postnatally – 4 weeks", 794, 667],
  ["Postnatally – 6 months", 774, 1277],
  ["Postnatally – 12 months", 815, 1882],
];

const orange = "#ff6600", darkred = "#990000", grey = "#606060", navy = "#000080";

// layout of the eight panels
const panels = [
  { rows: bmi28w, fit: fitBmi28w, kind: "bmi", color: orange, xr: [126.2, 701], yr: [497, 114], r: "0.103", p: "0.004", sig: true, sx: 435, sy: [138, 195], ylab: -70 },
  { rows: glyca28w, fit: fitGlyca28w, kind: "glyca", color: orange, xr: [973.6, 1549], yr: [497, 114], r: "0.089", p: "0.014", sig: true, sx: 1360, sy: [123.6, 181], ylab: -74, lineOnTop: true },
  { rows: bmi4w, fit: fitBmi4w, kind: "bmi", color: darkred, xr: [141.6, 716], yr: [1102, 718.7], r: "0.06", p: "0.07", sig: false, sx: 463, sy: [731, 788.6], ylab: -71, scoreLabel: "PSS  Score" },
  { rows: glyca4w, fit: fitGlyca4w, kind: "glyca", color: darkred, xr: [977.7, 1552], yr: [1104, 720.3], r: "0.02", p: "0.58", sig: false, sx: 1364.7, sy: [720.5, 778], ylab: -71 },
  { rows: bmi6m, fit: fitBmi6m, kind: "bmi", color: grey, xr: [145.2, 720], yr: [1721, 1338.3], r: "0.07", p: "0.04", sig: true, sx: 488, sy: [1360, 1416.6], ylab: -67 },
  { rows: glyca6m, fit: fitGlyca6m, kind: "glyca", color: grey, xr: [986.8, 1562], yr: [1724.4, 1340.6], r: "0.03", p: "0.45", sig: false, sx: 1399, sy: [1363.8, 1421], ylab: -74, wide: true },
  { rows: bmi12m, fit: fitBmi12m, kind: "bmi", color: navy, xr: [145.2, 720], yr: [2303, 1918.9], r: "0.12", p: "0.01", sig: true, sx: 339, sy: [1914, 1972.5], ylab: -69 },
  { rows: glyca12m, fit: fitGlyca12m, kind: "glyca", color: navy, xr: [986.8, 1563], yr: [2305, 1920.7], r: "0.07", p: "0.05", sig: true, sx: 1392, sy: [1914, 1972.5], ylab: -74 },
];

const svg = d3.select("#chart").append("svg")
  .attr("width", 1582).attr("height", 2405)
  .style("display", "block");

svg.append("rect").attr("width", 1582).attr("height", 2405).attr("fill", "#d9d9d9");

// the slide heading runs off the left edge of the picture
svg.append("text").attr("x", 124).attr("y", 67).attr("text-anchor", "end")
  .style("font-family", "Lato, sans-serif").style("font-weight", 900).style("font-size", "74px")
  .text("RESULTS");

svg.selectAll(".heading").data(titles).join("text")
  .attr("class", "heading")
  .attr("x", d => d[1]).attr("y", d => d[2])
  .attr("text-anchor", "middle")
  .text(d => d[0]);

panels.forEach(p => {
  const isBmi = p.kind === "bmi";
  const xDomain = isBmi ? [15, 55] : (p.wide ? [0, .5] : [0, .4]);
  const x = d3.scaleLinear().domain(xDomain).range(p.xr);
  const y = d3.scaleLinear().domain([0, 50]).range(p.yr);
  const g = svg.append("g");

  // expand the rows into single dots
  const dots = p.rows.flatMap(row => row.slice(1).map(v => ({ x: v, y: row[0] })));

  const drawLine = () => g.append("line")
    .attr("x1", x(p.fit[0])).attr("y1", y(p.fit[1]))
    .attr("x2", x(p.fit[2])).attr("y2", y(p.fit[3]))
    .attr("stroke", "#111").attr("stroke-width", 1.8);

  if (!p.lineOnTop) drawLine();

  g.selectAll("circle").data(dots).join("circle")
    .attr("cx", d => x(d.x)).attr("cy", d => y(d.y))
    .attr("r", 6.5)
    .attr("fill", p.color);

  if (p.lineOnTop) drawLine();

  // y axis
  const yAxis = g.append("g").attr("transform", `translate(${p.xr[0]},0)`)
    .call(d3.axisLeft(y).tickValues(scoreTicks).tickSize(15).tickPadding(6).tickFormat(d3.format("d")));

  // x axis, major ticks with labels
  const xAxis = g.append("g").attr("transform", `translate(0,${p.yr[0]})`)
    .call(d3.axisBottom(x)
      .tickValues(isBmi ? bmiTicks : (p.wide ? glycaTicksWide : glycaTicks))
      .tickSize(16).tickPadding(10)
      .tickFormat(isBmi ? d3.format("d") : d3.format(".1f")));

  if (isBmi) {
    g.append("g").attr("transform", `translate(0,${p.yr[0]})`)
      .call(d3.axisBottom(x).tickValues(bmiMinor).tickSize(9).tickFormat(""))
      .call(a => a.select(".domain").remove())
      .call(a => a.selectAll("line").attr("stroke", "#000").attr("stroke-width", 2.4));
  }

  [yAxis, xAxis].forEach(a => {
    a.select(".domain").attr("stroke", "#000").attr("stroke-width", 3.6);
    a.selectAll("line").attr("stroke", "#000").attr("stroke-width", 3);
    a.selectAll("text").attr("class", "tick-label").attr("fill", "#000");
  });

  // axis titles
  const xMid = (p.xr[0] + p.xr[1]) / 2;
  const xTitle = g.append("text").attr("class", "axis-title")
    .attr("x", xMid).attr("y", p.yr[0] + 97).attr("text-anchor", "middle");
  if (isBmi) {
    xTitle.append("tspan").text("Pre-pregnancy BMI (kg/m");
    xTitle.append("tspan").attr("dy", -11).style("font-size", "19px").text("2");
    xTitle.append("tspan").attr("dy", 11).text(")");
  } else {
    xTitle.text("GlycA (log)");
  }

  g.append("text").attr("class", "axis-title")
    .attr("transform", `translate(${p.xr[0] + p.ylab},${(p.yr[0] + p.yr[1]) / 2}) rotate(-90)`)
    .attr("text-anchor", "middle")
    .text(p.scoreLabel || "PSS Score");

  // r and p
  const rText = g.append("text").attr("class", "stat").attr("x", p.sx).attr("y", p.sy[0]);
  rText.append("tspan").style("font-style", "italic").text("r");
  rText.append("tspan").text(" = " + p.r);

  const pText = g.append("text").attr("class", "stat").attr("x", p.sx).attr("y", p.sy[1])
    .style("font-weight", p.sig ? 900 : 400);
  pText.append("tspan").style("font-style", "italic").text("p");
  pText.append("tspan").text(" = " + p.p);
});
</script>
</body>
</html>
